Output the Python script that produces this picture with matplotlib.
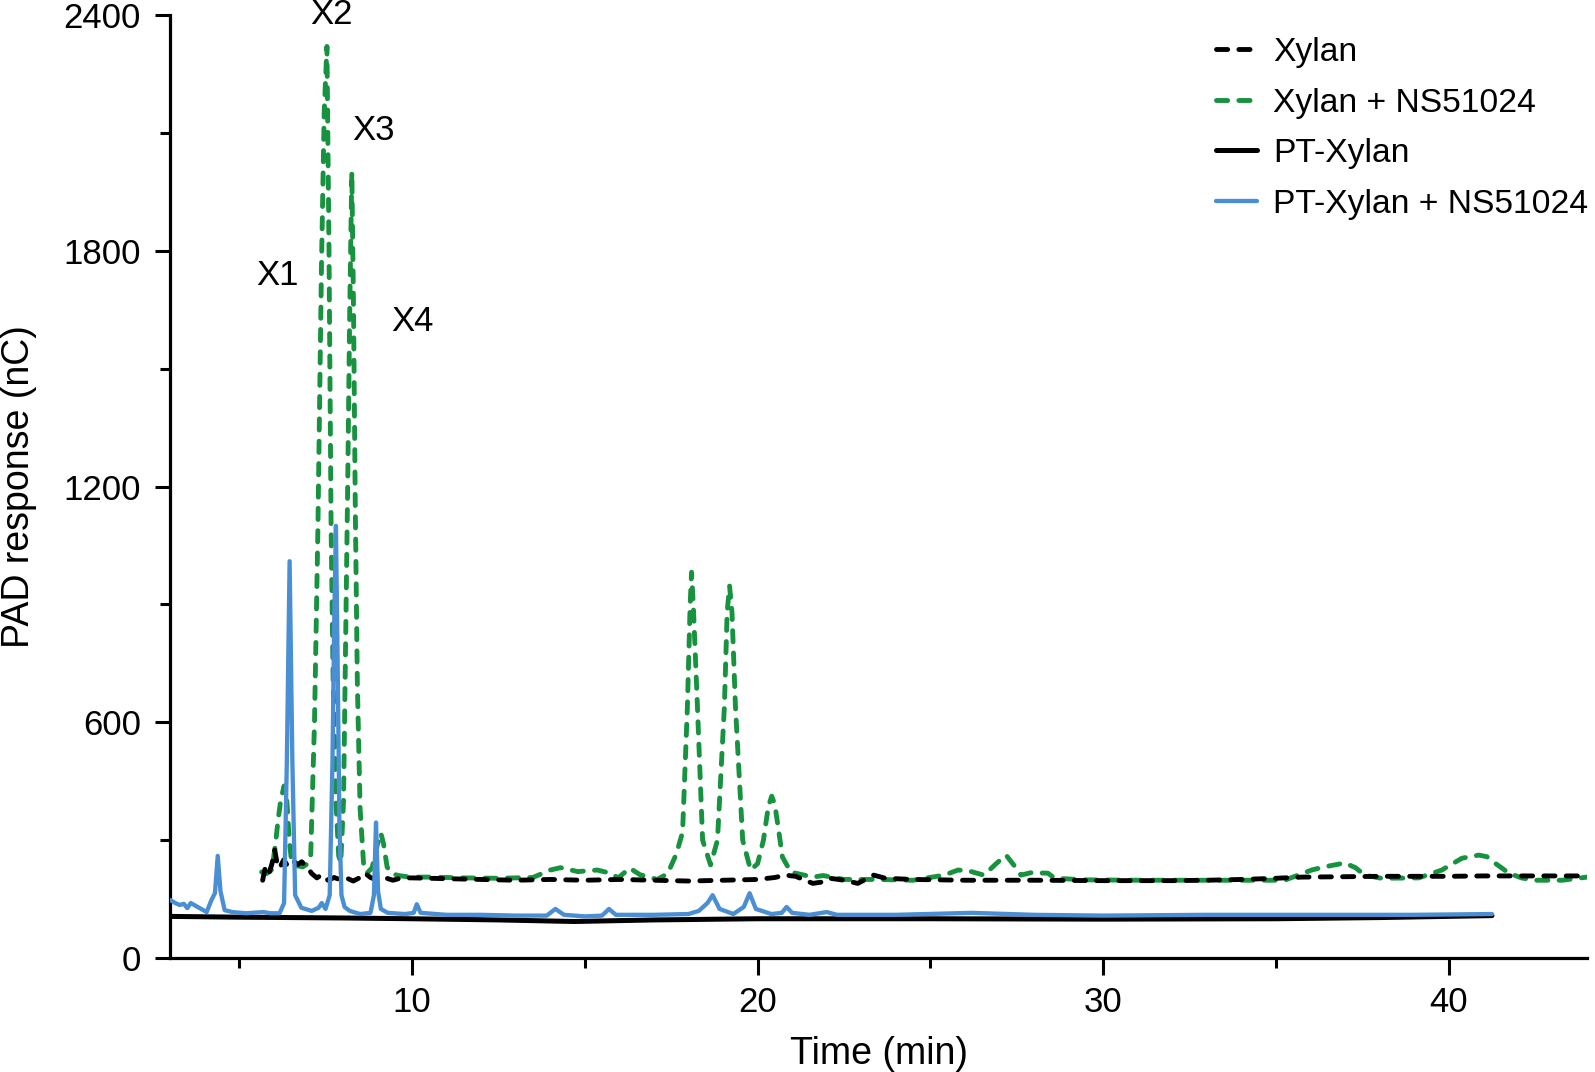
import matplotlib
matplotlib.use("Agg")
import matplotlib.pyplot as plt
from matplotlib.ticker import MultipleLocator

plt.rcParams['font.family'] = ['Liberation Sans', 'DejaVu Sans']

# Xylan (black dashed)
xylan_t = [5.68, 5.75, 5.85, 5.95, 6.03, 6.1, 6.17, 6.29, 6.4, 6.55, 6.7, 6.81, 6.99, 7.1, 7.25,
           7.39, 7.57, 7.75, 7.9, 8.1, 8.3, 8.5, 8.64, 8.8, 9.0, 9.2, 9.45, 9.7, 10.0, 11, 12, 13,
           14, 15, 16, 17, 18, 19, 20, 20.5, 20.8, 21.1, 21.6, 21.83, 22.1, 22.5, 22.9, 23.36,
           23.7, 24.5, 26, 28, 30, 32, 33, 34, 35, 35.74, 37, 38, 39, 40, 41, 42, 43, 44]
xylan_y = [198, 228, 212, 240, 275, 240, 229, 250, 235, 248, 238, 245, 229, 215, 204,
           212, 198, 205, 200, 204, 196, 205, 216, 205, 198, 205, 198, 204, 204, 202, 200, 198,
           200, 198, 200, 198, 196, 198, 200, 205, 211, 208, 190, 193, 203, 198, 190, 211,
           203, 200, 198, 198, 197, 197, 198, 200, 203, 206, 207, 208, 208, 208, 209, 209, 209, 209]

# Xylan + NS51024 (green dashed)
xyl_ns_t = [5.65, 5.8, 5.95, 6.05, 6.12, 6.2, 6.3, 6.38, 6.45, 6.52, 6.65, 6.84, 6.98, 7.07,
            7.18, 7.28, 7.38, 7.46, 7.54, 7.6, 7.66, 7.72, 7.8, 7.88, 7.94, 8.02, 8.08, 8.14,
            8.2, 8.26, 8.31, 8.36, 8.42, 8.5, 8.6, 8.7, 8.85, 8.95, 9.03, 9.1, 9.18, 9.28, 9.4,
            9.6, 9.94, 10.5, 11.5, 12.5, 13.5, 14.0, 14.3, 14.8, 15.36, 15.74, 15.97, 16.3, 16.6,
            17.1, 17.4, 17.65, 17.83, 17.97, 18.05, 18.09, 18.14, 18.26, 18.41, 18.64, 18.84,
            19.04, 19.12, 19.19, 19.26, 19.36, 19.57, 19.8, 20.0, 20.17, 20.31, 20.41, 20.5,
            20.58, 20.72, 20.96, 21.1, 21.6, 21.9, 22.5, 23.5, 24.5, 25.4, 25.8, 26.1, 26.55,
            26.9, 27.19, 27.42, 27.62, 27.9, 28.4, 28.6, 29.5, 31, 33, 35.25, 36.03, 36.4, 36.99,
            37.3, 37.57, 38.05, 39.13, 39.8, 40.38, 40.87, 41.1, 41.33, 41.74, 42.1, 42.5, 43.28, 44]
xyl_ns_y = [219, 215, 225, 290, 346, 400, 438, 400, 300, 242, 235, 232, 240, 260,
            600, 1100, 1750, 2150, 2320, 1800, 1100, 700, 400, 260, 242, 400, 800, 1200,
            1650, 2000, 1650, 1150, 700, 380, 240, 216, 230, 270, 300, 318, 290, 232, 216,
            210, 206, 206, 204, 203, 205, 224, 230, 220, 224, 216, 204, 229, 212,
            200, 215, 265, 320, 640, 900, 982, 900, 640, 300, 237, 300,
            640, 880, 947, 880, 640, 300, 224, 240, 300, 385, 412, 390,
            343, 257, 219, 216, 206, 210, 200, 200, 198, 211, 224, 222, 211,
            240, 262, 236, 211, 217, 216, 203, 199, 198, 198, 198, 224, 232, 242,
            230, 211, 203, 204, 224, 254, 262, 258, 242, 216, 204, 198, 198, 206]

# PT-Xylan (black solid)
pt_t = [3, 5, 8, 10, 12.5, 14.7, 17, 20, 25, 30, 35, 38, 41.25]
pt_y = [106, 104, 102, 100, 97, 93, 97, 100, 100, 99, 100, 103, 108]

# PT-Xylan + NS51024 (blue)
pt_ns_t = [3.0, 3.15, 3.28, 3.4, 3.5, 3.6, 3.8, 4.06, 4.2, 4.3, 4.38, 4.46, 4.58, 4.8, 5.2,
           5.7, 5.9, 6.17, 6.3, 6.38, 6.46, 6.54, 6.62, 6.8, 7.1, 7.3, 7.39, 7.5, 7.62, 7.7,
           7.75, 7.8, 7.85, 7.9, 7.96, 8.05, 8.2, 8.5, 8.8, 8.9, 8.96, 9.02, 9.1, 9.3, 9.8,
           10.05, 10.14, 10.25, 11, 12, 13, 13.9, 14.15, 14.4, 15.0, 15.5, 15.7, 15.9, 17, 18.0,
           18.3, 18.55, 18.7, 18.9, 19.3, 19.6, 19.77, 19.95, 20.4, 20.7, 20.84, 21.0, 21.5,
           22.0, 22.3, 24, 26.2, 28, 30, 33, 36, 39, 41.25]
pt_ns_y = [148, 140, 135, 138, 127, 140, 130, 117, 148, 165, 260, 170, 122, 117, 114,
           117, 114, 114, 140, 500, 1010, 500, 160, 128, 120, 128, 140, 125, 160, 500,
           850, 1100, 750, 350, 160, 130, 120, 112, 115, 160, 345, 170, 125, 115, 112,
           115, 137, 115, 110, 110, 108, 108, 125, 110, 106, 108, 125, 110, 110, 112,
           120, 140, 160, 125, 112, 130, 165, 125, 112, 115, 130, 115, 110,
           117, 110, 110, 115, 110, 108, 110, 110, 110, 112]

peak_labels = ['X1', 'X2', 'X3', 'X4']
peak_label_t = [6.12, 7.68, 8.9, 10.0]
peak_label_y = [1738, 2402, 2107, 1621]

green = '#17923f'
blue = '#4a8fd3'
dash = (2.3, 2.3)

fig = plt.figure(figsize=(15.95, 10.72), dpi=100)
ax = fig.add_axes([0.1066, 0.1063, 0.8884, 0.8797])

ax.plot(xyl_ns_t, xyl_ns_y, color=green, lw=3.5, dashes=dash, dash_capstyle='round',
        solid_joinstyle='round', label='Xylan + NS51024', zorder=2)
ax.plot(xylan_t, xylan_y, color='black', lw=3.5, dashes=dash, dash_capstyle='round',
        label='Xylan', zorder=3)
ax.plot(pt_t, pt_y, color='black', lw=3.6, solid_capstyle='round', label='PT-Xylan', zorder=3)
ax.plot(pt_ns_t, pt_ns_y, color=blue, lw=3.1, solid_capstyle='round', solid_joinstyle='round',
        label='PT-Xylan + NS51024', zorder=4)

for lab, t, y in zip(peak_labels, peak_label_t, peak_label_y):
    ax.text(t, y, lab, fontsize=25, ha='center', va='center')

ax.set_xlim(3, 44)
ax.set_ylim(0, 2400)
ax.xaxis.set_major_locator(MultipleLocator(10))
ax.xaxis.set_minor_locator(MultipleLocator(5))
ax.yaxis.set_major_locator(MultipleLocator(600))
ax.yaxis.set_minor_locator(MultipleLocator(300))

for s in ['top', 'right']:
    ax.spines[s].set_visible(False)
for s in ['left', 'bottom']:
    ax.spines[s].set_linewidth(2.3)

ax.tick_params(axis='x', which='major', length=12, width=2.2, labelsize=25, pad=8)
ax.tick_params(axis='x', which='minor', length=7, width=2.2)
ax.tick_params(axis='y', which='major', length=11, width=2.2, labelsize=25, pad=10)
ax.tick_params(axis='y', which='minor', length=7, width=2.2)

ax.set_xlabel('Time (min)', fontsize=27)
ax.set_ylabel('PAD response (nC)', fontsize=27)
ax.xaxis.set_label_coords(0.5, -0.083)
ax.yaxis.set_label_coords(-0.094, 0.5)

h, l = ax.get_legend_handles_labels()
order = [1, 0, 2, 3]
ax.legend([h[i] for i in order], [l[i] for i in order], loc='upper right',
          bbox_to_anchor=(1.015, 0.998), frameon=False, fontsize=24.2,
          handlelength=1.21, handletextpad=0.49, labelspacing=0.58, borderaxespad=0.2)

fig.savefig('out.png', dpi=100)
